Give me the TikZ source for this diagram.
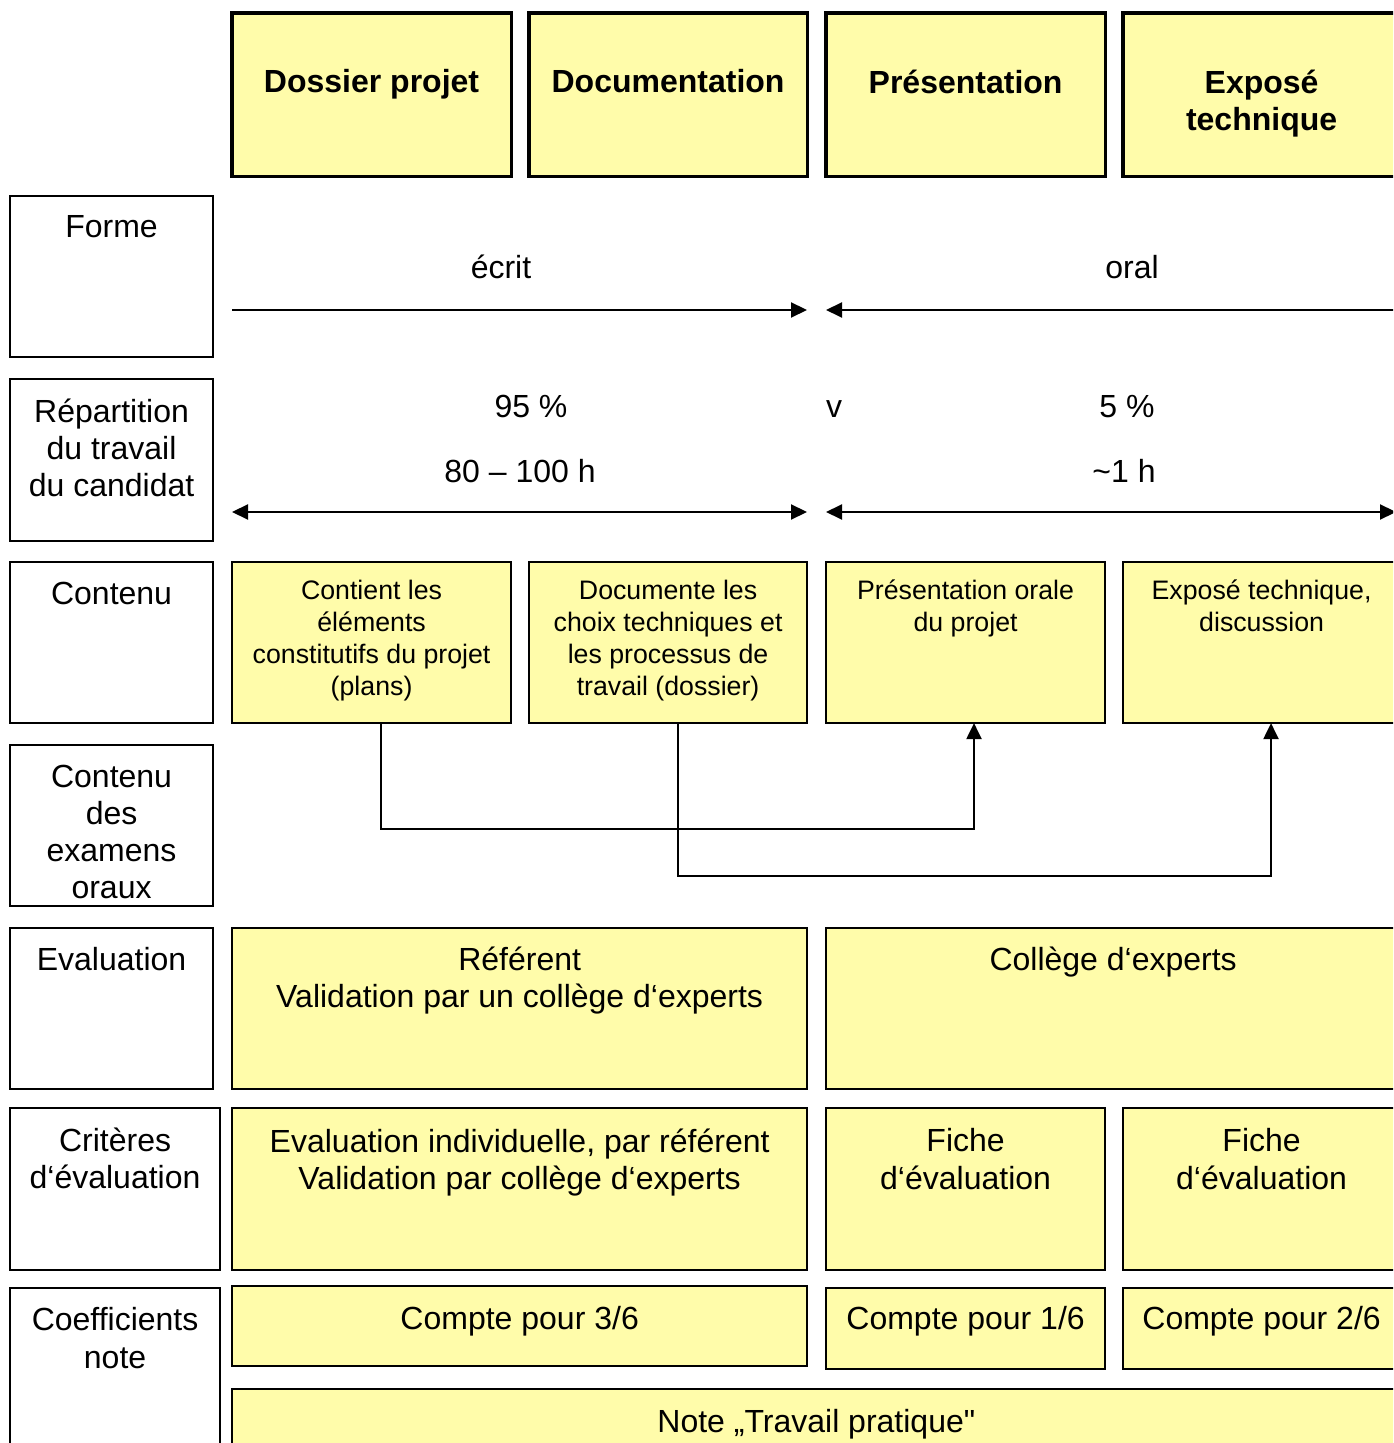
\documentclass[tikz,border=0pt]{standalone}
\usepackage{fontspec}
\setmainfont{Liberation Sans}
\usetikzlibrary{positioning,arrows.meta}
\definecolor{mycellcolor}{HTML}{FFFCAA}
\tikzset{
  headbox/.style={draw, fill=mycellcolor, line width=0.9pt, rectangle, inner sep=0pt, outer sep=0pt, anchor=north west},
  cellbox/.style={draw, fill=mycellcolor, line width=0.6pt, rectangle, inner sep=0pt, outer sep=0pt, anchor=north west},
  rowbox/.style={draw, fill=white, line width=0.6pt, rectangle, inner sep=0pt, outer sep=0pt, anchor=north west},
  headtext/.style={inner sep=0pt, align=center, font=\fontsize{9.1pt}{10.5pt}\selectfont\bfseries},
  rowtext/.style={inner sep=0pt, align=center, font=\fontsize{9.1pt}{10.6pt}\selectfont},
  smalltext/.style={inner sep=0pt, align=center, font=\fontsize{7.6pt}{9.1pt}\selectfont},
  conn/.style={line width=0.6pt}
}

\begin{document}
\begin{tikzpicture}[x=0.01cm, y=0.01cm, >={Triangle[length=0.16cm,width=0.15cm]}]%
\useasboundingbox (0,0) rectangle (1393,-1443);%
\clip (0,0) rectangle (1393,-1443);%
% column heads
\node[headbox, minimum width=2.79cm, minimum height=1.63cm] (head1) at (232,-13) {};%
\node[headbox, minimum width=2.78cm, minimum height=1.63cm] (head2) at (529,-13) {};%
\node[headbox, minimum width=2.79cm, minimum height=1.63cm] (head3) at (826,-13) {};%
\node[headbox, minimum width=2.77cm, minimum height=1.63cm] (head4) at (1123,-13) {};%
\node[headtext, below=0.56cm of head1.north] (headtxt1) {Dossier projet};%
\node[headtext, below=0.56cm of head2.north] (headtxt2) {Documentation};%
\node[headtext, below=0.56cm of head3.north] (headtxt3) {Présentation};%
\node[headtext, below=0.56cm of head4.north] (headtxt4) {Exposé\\technique};%
% row labels
\node[rowbox, minimum width=2.03cm, minimum height=1.61cm] (forme) at (10,-196) {};%
\node[rowbox, minimum width=2.03cm, minimum height=1.62cm] (repart) at (10,-379) {};%
\node[rowbox, minimum width=2.03cm, minimum height=1.61cm] (contenu) at (10,-562) {};%
\node[rowbox, minimum width=2.03cm, minimum height=1.61cm] (oraux) at (10,-745) {};%
\node[rowbox, minimum width=2.03cm, minimum height=1.61cm] (evaluation) at (10,-928) {};%
\node[rowbox, minimum width=2.10cm, minimum height=1.62cm] (criteres) at (10,-1108) {};%
\node[rowbox, minimum width=2.10cm, minimum height=1.70cm] (coeff) at (10,-1288) {};%
\node[rowtext, below=0.19cm of forme.north] (formetxt) {Forme};%
\node[rowtext, below=0.19cm of repart.north] (reparttxt) {Répartition\\du travail\\du candidat};%
\node[rowtext, below=0.19cm of contenu.north] (contenutxt) {Contenu};%
\node[rowtext, below=0.19cm of oraux.north] (orauxtxt) {Contenu\\des\\examens\\oraux};%
\node[rowtext, below=0.19cm of evaluation.north] (evaluationtxt) {Evaluation};%
\node[rowtext, below=0.19cm of criteres.north] (criterestxt) {Critères\\d‘évaluation};%
\node[rowtext, below=0.19cm of coeff.north] (coefftxt) {Coefficients\\note};%
% forme + repartition
\node[rowtext, anchor=base] (ecrit) at (501,-279) {écrit};%
\node[rowtext, anchor=base] (oral) at (1132,-279) {oral};%
\coordinate (ecritL) at (232,-310);%
\coordinate (ecritR) at (807,-310);%
\coordinate (oralL) at (826,-310);%
\coordinate (oralR) at (1400,-310);%
\draw[conn, ->] (ecritL) -- (ecritR);%
\draw[conn, ->] (oralR) -- (oralL);%
\node[rowtext, anchor=base] (pcta) at (531,-418) {95 \%};%
\node[rowtext, anchor=base] (vs) at (834,-418) {v};%
\node[rowtext, anchor=base] (pctb) at (1127,-418) {5 \%};%
\node[rowtext, anchor=base] (hrsa) at (520,-482) {80 – 100 h};%
\node[rowtext, anchor=base] (hrsb) at (1124,-482) {\textasciitilde1 h};%
\coordinate (hrsAL) at (232,-512);%
\coordinate (hrsAR) at (807,-512);%
\coordinate (hrsBL) at (826,-512);%
\coordinate (hrsBR) at (1396,-512);%
\draw[conn, <->] (hrsAL) -- (hrsAR);%
\draw[conn, <->] (hrsBL) -- (hrsBR);%
% contenu
\node[cellbox, minimum width=2.79cm, minimum height=1.61cm] (cont1) at (232,-562) {};%
\node[cellbox, minimum width=2.78cm, minimum height=1.61cm] (cont2) at (529,-562) {};%
\node[cellbox, minimum width=2.79cm, minimum height=1.61cm] (cont3) at (826,-562) {};%
\node[cellbox, minimum width=2.77cm, minimum height=1.61cm] (cont4) at (1123,-562) {};%
\node[smalltext, below=0.175cm of cont1.north] (conttxt1) {Contient les\\éléments\\constitutifs du projet\\(plans)};%
\node[smalltext, below=0.175cm of cont2.north] (conttxt2) {Documente les\\choix techniques et\\les processus de\\travail (dossier)};%
\node[smalltext, below=0.175cm of cont3.north] (conttxt3) {Présentation orale\\du projet};%
\node[smalltext, below=0.175cm of cont4.north] (conttxt4) {Exposé technique,\\discussion};%
% oral exam links
\coordinate (bendA) at (381,-829);%
\coordinate (bendB) at (974,-829);%
\coordinate (bendC) at (678,-876);%
\coordinate (bendD) at (1271,-876);%
\draw[conn, ->] (cont1.south -| bendA) -- (bendA) -- (bendB) -- (cont3.south -| bendB);%
\draw[conn, ->] (cont2.south -| bendC) -- (bendC) -- (bendD) -- (cont4.south -| bendD);%
% evaluation
\node[cellbox, minimum width=5.75cm, minimum height=1.61cm] (eval1) at (232,-928) {};%
\node[cellbox, minimum width=5.74cm, minimum height=1.61cm] (eval2) at (826,-928) {};%
\node[rowtext, below=0.18cm of eval1.north] (evaltxt1) {Référent\\Validation par un collège d‘experts};%
\node[rowtext, below=0.18cm of eval2.north] (evaltxt2) {Collège d‘experts};%
% criteres
\node[cellbox, minimum width=5.75cm, minimum height=1.62cm] (crit1) at (232,-1108) {};%
\node[cellbox, minimum width=2.79cm, minimum height=1.62cm] (crit2) at (826,-1108) {};%
\node[cellbox, minimum width=2.77cm, minimum height=1.62cm] (crit3) at (1123,-1108) {};%
\node[rowtext, below=0.20cm of crit1.north] (crittxt1) {Evaluation individuelle, par référent\\Validation par collège d‘experts};%
\node[rowtext, below=0.20cm of crit2.north] (crittxt2) {Fiche\\d‘évaluation};%
\node[rowtext, below=0.20cm of crit3.north] (crittxt3) {Fiche\\d‘évaluation};%
% coefficients
\node[cellbox, minimum width=5.75cm, minimum height=0.80cm] (coef1) at (232,-1286) {};%
\node[cellbox, minimum width=2.79cm, minimum height=0.81cm] (coef2) at (826,-1288) {};%
\node[cellbox, minimum width=2.77cm, minimum height=0.81cm] (coef3) at (1123,-1288) {};%
\node[rowtext, below=0.20cm of coef1.north] (coeftxt1) {Compte pour 3/6};%
\node[rowtext, below=0.18cm of coef2.north] (coeftxt2) {Compte pour 1/6};%
\node[rowtext, below=0.18cm of coef3.north] (coeftxt3) {Compte pour 2/6};%
\node[cellbox, minimum width=11.68cm, minimum height=0.70cm] (note) at (232,-1389) {};%
\node[rowtext, below=0.20cm of note.north] (notetxt) {Note „Travail pratique\textquotedbl};%
\end{tikzpicture}
\end{document}
